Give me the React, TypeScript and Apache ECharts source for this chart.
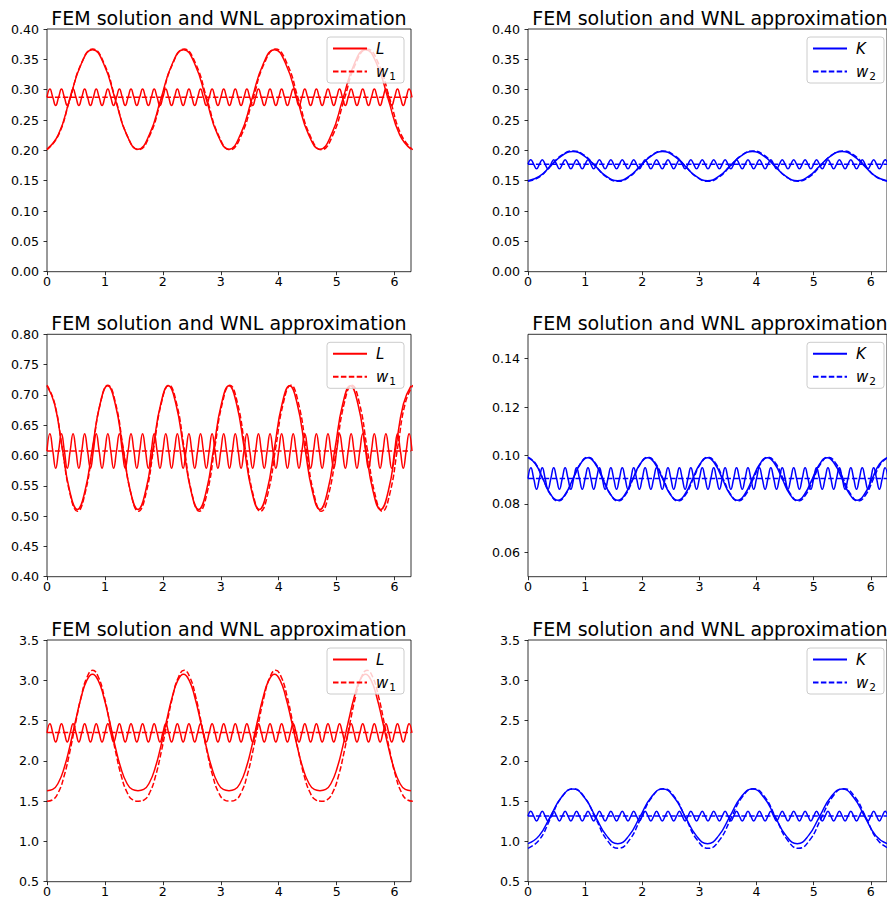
import React, { useEffect, useRef } from "react";
import * as echarts from "echarts";

// ---------- data ----------
const TWO_PI = 6.283185307;
const X_TICKS = [0, 1, 2, 3, 4, 5, 6];
const Y_TICKS_TOP = [0.0, 0.05, 0.1, 0.15, 0.2, 0.25, 0.3, 0.35, 0.4];
const Y_TICKS_MID_L = [0.4, 0.45, 0.5, 0.55, 0.6, 0.65, 0.7, 0.75, 0.8];
const Y_TICKS_MID_R = [0.06, 0.08, 0.1, 0.12, 0.14];
const Y_TICKS_BOT = [0.5, 1.0, 1.5, 2.0, 2.5, 3.0, 3.5];

const TITLE = "FEM solution and WNL approximation";
const LEFT_NAMES = ["L", "w1"];
const RIGHT_NAMES = ["K", "w2"];

// sampling steps along x (solid FEM curve / dashed WNL curve / fast mode)
const SLOW_STEP = [0.19635, 0.19635, 0.1309, 0.1309, 0.09817, 0.19635];
const DASH_STEP = [0.19733, 0.19674, 0.13155, 0.13142, 0.09866, 0.19733];
const FAST_STEP = 0.05;

// panel 1 (top left)
const L_1 = [
  0.202, 0.226, 0.284, 0.342, 0.366, 0.342, 0.284, 0.226,
  0.202, 0.226, 0.284, 0.342, 0.366, 0.342, 0.284, 0.226,
  0.202, 0.226, 0.284, 0.342, 0.366, 0.342, 0.284, 0.226,
  0.202, 0.226, 0.284, 0.342, 0.366, 0.342, 0.284, 0.226,
  0.202,
];
const W1_1 = [
  0.201, 0.225, 0.284, 0.343, 0.367, 0.343, 0.284, 0.225,
  0.201, 0.225, 0.284, 0.343, 0.367, 0.343, 0.284, 0.225,
  0.201, 0.225, 0.284, 0.343, 0.367, 0.343, 0.284, 0.225,
  0.201, 0.225, 0.284, 0.343, 0.367, 0.343, 0.284, 0.225,
  0.201,
];
// panel 2 (top right)
const K_2 = [
  0.150, 0.157, 0.174, 0.191, 0.198, 0.191, 0.174, 0.157,
  0.150, 0.157, 0.174, 0.191, 0.198, 0.191, 0.174, 0.157,
  0.150, 0.157, 0.174, 0.191, 0.198, 0.191, 0.174, 0.157,
  0.150, 0.157, 0.174, 0.191, 0.198, 0.191, 0.174, 0.157,
  0.150,
];
const W2_2 = [
  0.149, 0.156, 0.174, 0.192, 0.199, 0.192, 0.174, 0.156,
  0.149, 0.156, 0.174, 0.192, 0.199, 0.192, 0.174, 0.156,
  0.149, 0.156, 0.174, 0.192, 0.199, 0.192, 0.174, 0.156,
  0.149, 0.156, 0.174, 0.192, 0.199, 0.192, 0.174, 0.156,
  0.149,
];
// panel 3 (middle left)
const L_3 = [
  0.715, 0.685, 0.613, 0.541, 0.511, 0.541, 0.613, 0.685,
  0.715, 0.685, 0.613, 0.541, 0.511, 0.541, 0.613, 0.685,
  0.715, 0.685, 0.613, 0.541, 0.511, 0.541, 0.613, 0.685,
  0.715, 0.685, 0.613, 0.541, 0.511, 0.541, 0.613, 0.685,
  0.715, 0.685, 0.613, 0.541, 0.511, 0.541, 0.613, 0.685,
  0.715, 0.685, 0.613, 0.541, 0.511, 0.541, 0.613, 0.685,
  0.715,
];
const W1_3 = [
  0.716, 0.686, 0.612, 0.538, 0.508, 0.538, 0.612, 0.686,
  0.716, 0.686, 0.612, 0.538, 0.508, 0.538, 0.612, 0.686,
  0.716, 0.686, 0.612, 0.538, 0.508, 0.538, 0.612, 0.686,
  0.716, 0.686, 0.612, 0.538, 0.508, 0.538, 0.612, 0.686,
  0.716, 0.686, 0.612, 0.538, 0.508, 0.538, 0.612, 0.686,
  0.716, 0.686, 0.612, 0.538, 0.508, 0.538, 0.612, 0.686,
  0.716,
];
// panel 4 (middle right)
const K_4 = [
  0.0991, 0.0965, 0.0903, 0.0841, 0.0815, 0.0841, 0.0903, 0.0965,
  0.0991, 0.0965, 0.0903, 0.0841, 0.0815, 0.0841, 0.0903, 0.0965,
  0.0991, 0.0965, 0.0903, 0.0841, 0.0815, 0.0841, 0.0903, 0.0965,
  0.0991, 0.0965, 0.0903, 0.0841, 0.0815, 0.0841, 0.0903, 0.0965,
  0.0991, 0.0965, 0.0903, 0.0841, 0.0815, 0.0841, 0.0903, 0.0965,
  0.0991, 0.0965, 0.0903, 0.0841, 0.0815, 0.0841, 0.0903, 0.0965,
  0.0991,
];
const W2_4 = [
  0.0993, 0.0967, 0.0903, 0.0839, 0.0812, 0.0839, 0.0903, 0.0967,
  0.0993, 0.0967, 0.0903, 0.0839, 0.0812, 0.0839, 0.0903, 0.0967,
  0.0993, 0.0967, 0.0903, 0.0839, 0.0812, 0.0839, 0.0903, 0.0967,
  0.0993, 0.0967, 0.0903, 0.0839, 0.0812, 0.0839, 0.0903, 0.0967,
  0.0993, 0.0967, 0.0903, 0.0839, 0.0812, 0.0839, 0.0903, 0.0967,
  0.0993, 0.0967, 0.0903, 0.0839, 0.0812, 0.0839, 0.0903, 0.0967,
  0.0993,
];
// panel 5 (bottom left)
const L_5 = [
  1.630, 1.645, 1.728, 1.909, 2.177, 2.491, 2.787, 2.998, 3.074, 2.998, 2.787, 2.491, 2.177, 1.909, 1.728, 1.645,
  1.630, 1.645, 1.728, 1.909, 2.177, 2.491, 2.787, 2.998, 3.074, 2.998, 2.787, 2.491, 2.177, 1.909, 1.728, 1.645,
  1.630, 1.645, 1.728, 1.909, 2.177, 2.491, 2.787, 2.998, 3.074, 2.998, 2.787, 2.491, 2.177, 1.909, 1.728, 1.645,
  1.630, 1.645, 1.728, 1.909, 2.177, 2.491, 2.787, 2.998, 3.074, 2.998, 2.787, 2.491, 2.177, 1.909, 1.728, 1.645,
  1.630,
];
const W1_5 = [
  1.500, 1.517, 1.610, 1.813, 2.115, 2.469, 2.801, 3.038, 3.124, 3.038, 2.801, 2.469, 2.115, 1.813, 1.610, 1.517,
  1.500, 1.517, 1.610, 1.813, 2.115, 2.469, 2.801, 3.038, 3.124, 3.038, 2.801, 2.469, 2.115, 1.813, 1.610, 1.517,
  1.500, 1.517, 1.610, 1.813, 2.115, 2.469, 2.801, 3.038, 3.124, 3.038, 2.801, 2.469, 2.115, 1.813, 1.610, 1.517,
  1.500, 1.517, 1.610, 1.813, 2.115, 2.469, 2.801, 3.038, 3.124, 3.038, 2.801, 2.469, 2.115, 1.813, 1.610, 1.517,
  1.500,
];
// panel 6 (bottom right)
const K_6 = [
  0.972, 1.072, 1.312, 1.552, 1.651, 1.552, 1.312, 1.072,
  0.972, 1.072, 1.312, 1.552, 1.651, 1.552, 1.312, 1.072,
  0.972, 1.072, 1.312, 1.552, 1.651, 1.552, 1.312, 1.072,
  0.972, 1.072, 1.312, 1.552, 1.651, 1.552, 1.312, 1.072,
  0.972,
];
const W2_6 = [
  0.914, 1.019, 1.285, 1.551, 1.655, 1.551, 1.285, 1.019,
  0.914, 1.019, 1.285, 1.551, 1.655, 1.551, 1.285, 1.019,
  0.914, 1.019, 1.285, 1.551, 1.655, 1.551, 1.285, 1.019,
  0.914, 1.019, 1.285, 1.551, 1.655, 1.551, 1.285, 1.019,
  0.914,
];

// fast oscillating mode, sampled every FAST_STEP
const FAST_1 = [
  0.2875, 0.301, 0.2875, 0.274, 0.2875, 0.301, 0.2875, 0.274,
  0.2875, 0.301, 0.2875, 0.274, 0.2875, 0.301, 0.2875, 0.274,
  0.2875, 0.301, 0.2875, 0.274, 0.2875, 0.301, 0.2875, 0.274,
  0.2875, 0.301, 0.2875, 0.274, 0.2875, 0.301, 0.2875, 0.274,
  0.2875, 0.301, 0.2875, 0.274, 0.2875, 0.301, 0.2875, 0.274,
  0.2875, 0.301, 0.2875, 0.274, 0.2875, 0.301, 0.2875, 0.274,
  0.2875, 0.301, 0.2875, 0.274, 0.2875, 0.301, 0.2875, 0.274,
  0.2875, 0.301, 0.2875, 0.274, 0.2875, 0.301, 0.2875, 0.274,
  0.2875, 0.301, 0.2875, 0.274, 0.2875, 0.301, 0.2875, 0.274,
  0.2875, 0.301, 0.2875, 0.274, 0.2875, 0.301, 0.2875, 0.274,
  0.2875, 0.301, 0.2875, 0.274, 0.2875, 0.301, 0.2875, 0.274,
  0.2875, 0.301, 0.2875, 0.274, 0.2875, 0.301, 0.2875, 0.274,
  0.2875, 0.301, 0.2875, 0.274, 0.2875, 0.301, 0.2875, 0.274,
  0.2875, 0.301, 0.2875, 0.274, 0.2875, 0.301, 0.2875, 0.274,
  0.2875, 0.301, 0.2875, 0.274, 0.2875, 0.301, 0.2875, 0.274,
  0.2875, 0.301, 0.2875, 0.274,
  0.2875, 0.301, 0.2875,
];
const FAST_2 = [
  0.177, 0.1845, 0.177, 0.1695, 0.177, 0.1845, 0.177, 0.1695,
  0.177, 0.1845, 0.177, 0.1695, 0.177, 0.1845, 0.177, 0.1695,
  0.177, 0.1845, 0.177, 0.1695, 0.177, 0.1845, 0.177, 0.1695,
  0.177, 0.1845, 0.177, 0.1695, 0.177, 0.1845, 0.177, 0.1695,
  0.177, 0.1845, 0.177, 0.1695, 0.177, 0.1845, 0.177, 0.1695,
  0.177, 0.1845, 0.177, 0.1695, 0.177, 0.1845, 0.177, 0.1695,
  0.177, 0.1845, 0.177, 0.1695, 0.177, 0.1845, 0.177, 0.1695,
  0.177, 0.1845, 0.177, 0.1695, 0.177, 0.1845, 0.177, 0.1695,
  0.177, 0.1845, 0.177, 0.1695, 0.177, 0.1845, 0.177, 0.1695,
  0.177, 0.1845, 0.177, 0.1695, 0.177, 0.1845, 0.177, 0.1695,
  0.177, 0.1845, 0.177, 0.1695, 0.177, 0.1845, 0.177, 0.1695,
  0.177, 0.1845, 0.177, 0.1695, 0.177, 0.1845, 0.177, 0.1695,
  0.177, 0.1845, 0.177, 0.1695, 0.177, 0.1845, 0.177, 0.1695,
  0.177, 0.1845, 0.177, 0.1695, 0.177, 0.1845, 0.177, 0.1695,
  0.177, 0.1845, 0.177, 0.1695, 0.177, 0.1845, 0.177, 0.1695,
  0.177, 0.1845, 0.177, 0.1695,
  0.177, 0.1845, 0.177,
];
const FAST_3 = [
  0.6075, 0.636, 0.6075, 0.579, 0.6075, 0.636, 0.6075, 0.579,
  0.6075, 0.636, 0.6075, 0.579, 0.6075, 0.636, 0.6075, 0.579,
  0.6075, 0.636, 0.6075, 0.579, 0.6075, 0.636, 0.6075, 0.579,
  0.6075, 0.636, 0.6075, 0.579, 0.6075, 0.636, 0.6075, 0.579,
  0.6075, 0.636, 0.6075, 0.579, 0.6075, 0.636, 0.6075, 0.579,
  0.6075, 0.636, 0.6075, 0.579, 0.6075, 0.636, 0.6075, 0.579,
  0.6075, 0.636, 0.6075, 0.579, 0.6075, 0.636, 0.6075, 0.579,
  0.6075, 0.636, 0.6075, 0.579, 0.6075, 0.636, 0.6075, 0.579,
  0.6075, 0.636, 0.6075, 0.579, 0.6075, 0.636, 0.6075, 0.579,
  0.6075, 0.636, 0.6075, 0.579, 0.6075, 0.636, 0.6075, 0.579,
  0.6075, 0.636, 0.6075, 0.579, 0.6075, 0.636, 0.6075, 0.579,
  0.6075, 0.636, 0.6075, 0.579, 0.6075, 0.636, 0.6075, 0.579,
  0.6075, 0.636, 0.6075, 0.579, 0.6075, 0.636, 0.6075, 0.579,
  0.6075, 0.636, 0.6075, 0.579, 0.6075, 0.636, 0.6075, 0.579,
  0.6075, 0.636, 0.6075, 0.579, 0.6075, 0.636, 0.6075, 0.579,
  0.6075, 0.636, 0.6075, 0.579,
  0.6075, 0.636, 0.6075,
];
const FAST_4 = [
  0.0905, 0.0949, 0.0905, 0.0861, 0.0905, 0.0949, 0.0905, 0.0861,
  0.0905, 0.0949, 0.0905, 0.0861, 0.0905, 0.0949, 0.0905, 0.0861,
  0.0905, 0.0949, 0.0905, 0.0861, 0.0905, 0.0949, 0.0905, 0.0861,
  0.0905, 0.0949, 0.0905, 0.0861, 0.0905, 0.0949, 0.0905, 0.0861,
  0.0905, 0.0949, 0.0905, 0.0861, 0.0905, 0.0949, 0.0905, 0.0861,
  0.0905, 0.0949, 0.0905, 0.0861, 0.0905, 0.0949, 0.0905, 0.0861,
  0.0905, 0.0949, 0.0905, 0.0861, 0.0905, 0.0949, 0.0905, 0.0861,
  0.0905, 0.0949, 0.0905, 0.0861, 0.0905, 0.0949, 0.0905, 0.0861,
  0.0905, 0.0949, 0.0905, 0.0861, 0.0905, 0.0949, 0.0905, 0.0861,
  0.0905, 0.0949, 0.0905, 0.0861, 0.0905, 0.0949, 0.0905, 0.0861,
  0.0905, 0.0949, 0.0905, 0.0861, 0.0905, 0.0949, 0.0905, 0.0861,
  0.0905, 0.0949, 0.0905, 0.0861, 0.0905, 0.0949, 0.0905, 0.0861,
  0.0905, 0.0949, 0.0905, 0.0861, 0.0905, 0.0949, 0.0905, 0.0861,
  0.0905, 0.0949, 0.0905, 0.0861, 0.0905, 0.0949, 0.0905, 0.0861,
  0.0905, 0.0949, 0.0905, 0.0861, 0.0905, 0.0949, 0.0905, 0.0861,
  0.0905, 0.0949, 0.0905, 0.0861,
  0.0905, 0.0949, 0.0905,
];
const FAST_5 = [
  2.348, 2.461, 2.348, 2.235, 2.348, 2.461, 2.348, 2.235,
  2.348, 2.461, 2.348, 2.235, 2.348, 2.461, 2.348, 2.235,
  2.348, 2.461, 2.348, 2.235, 2.348, 2.461, 2.348, 2.235,
  2.348, 2.461, 2.348, 2.235, 2.348, 2.461, 2.348, 2.235,
  2.348, 2.461, 2.348, 2.235, 2.348, 2.461, 2.348, 2.235,
  2.348, 2.461, 2.348, 2.235, 2.348, 2.461, 2.348, 2.235,
  2.348, 2.461, 2.348, 2.235, 2.348, 2.461, 2.348, 2.235,
  2.348, 2.461, 2.348, 2.235, 2.348, 2.461, 2.348, 2.235,
  2.348, 2.461, 2.348, 2.235, 2.348, 2.461, 2.348, 2.235,
  2.348, 2.461, 2.348, 2.235, 2.348, 2.461, 2.348, 2.235,
  2.348, 2.461, 2.348, 2.235, 2.348, 2.461, 2.348, 2.235,
  2.348, 2.461, 2.348, 2.235, 2.348, 2.461, 2.348, 2.235,
  2.348, 2.461, 2.348, 2.235, 2.348, 2.461, 2.348, 2.235,
  2.348, 2.461, 2.348, 2.235, 2.348, 2.461, 2.348, 2.235,
  2.348, 2.461, 2.348, 2.235, 2.348, 2.461, 2.348, 2.235,
  2.348, 2.461, 2.348, 2.235,
  2.348, 2.461, 2.348,
];
const FAST_6 = [
  1.314, 1.374, 1.314, 1.254, 1.314, 1.374, 1.314, 1.254,
  1.314, 1.374, 1.314, 1.254, 1.314, 1.374, 1.314, 1.254,
  1.314, 1.374, 1.314, 1.254, 1.314, 1.374, 1.314, 1.254,
  1.314, 1.374, 1.314, 1.254, 1.314, 1.374, 1.314, 1.254,
  1.314, 1.374, 1.314, 1.254, 1.314, 1.374, 1.314, 1.254,
  1.314, 1.374, 1.314, 1.254, 1.314, 1.374, 1.314, 1.254,
  1.314, 1.374, 1.314, 1.254, 1.314, 1.374, 1.314, 1.254,
  1.314, 1.374, 1.314, 1.254, 1.314, 1.374, 1.314, 1.254,
  1.314, 1.374, 1.314, 1.254, 1.314, 1.374, 1.314, 1.254,
  1.314, 1.374, 1.314, 1.254, 1.314, 1.374, 1.314, 1.254,
  1.314, 1.374, 1.314, 1.254, 1.314, 1.374, 1.314, 1.254,
  1.314, 1.374, 1.314, 1.254, 1.314, 1.374, 1.314, 1.254,
  1.314, 1.374, 1.314, 1.254, 1.314, 1.374, 1.314, 1.254,
  1.314, 1.374, 1.314, 1.254, 1.314, 1.374, 1.314, 1.254,
  1.314, 1.374, 1.314, 1.254, 1.314, 1.374, 1.314, 1.254,
  1.314, 1.374, 1.314, 1.254,
  1.314, 1.374, 1.314,
];
// WNL approximation of the fast mode (constant level)
const FAST_MEAN = [0.2875, 0.177, 0.6075, 0.0905, 2.352, 1.315];

const SOLID = [L_1, K_2, L_3, K_4, L_5, K_6];
const DASHED = [W1_1, W2_2, W1_3, W2_4, W1_5, W2_6];
const FAST = [FAST_1, FAST_2, FAST_3, FAST_4, FAST_5, FAST_6];

// ---------- layout ----------
const COL_LEFT = [47, 528];
const ROW_TOP = [29, 334.3, 640];
const PLOT_W = 364;
const PLOT_H = [242.7, 242.4, 241.7];
const LEGEND_X = [327, 807];
const LEGEND_W = 77;
const LEGEND_H = 46;
const Y_RANGE = [
  [0, 0.4], [0, 0.4],
  [0.4, 0.8], [0.05, 0.15],
  [0.5, 3.5], [0.5, 3.5],
];
const Y_TICKS = [Y_TICKS_TOP, Y_TICKS_TOP, Y_TICKS_MID_L, Y_TICKS_MID_R, Y_TICKS_BOT, Y_TICKS_BOT];
const Y_DEC = [2, 2, 2, 2, 1, 1];
const COLORS = ["#ff0000", "#0000ff"];
const FONT = "DejaVu Sans";
const DASH = [5.5, 2.4];

function toXY(vals: number[], step: number): number[][] {
  return vals.map((v, i) => [i * step, v]);
}

function buildOption() {
  const grid: any[] = [];
  const xAxis: any[] = [];
  const yAxis: any[] = [];
  const series: any[] = [];
  const title: any[] = [];
  const legend: any[] = [];
  const graphic: any[] = [];

  for (let i = 0; i < 6; i++) {
    const row = Math.floor(i / 2);
    const col = i % 2;
    const left = COL_LEFT[col];
    const top = ROW_TOP[row];
    const h = PLOT_H[row];
    const color = COLORS[col];
    const names = col === 0 ? LEFT_NAMES : RIGHT_NAMES;

    grid.push({
      left, top, width: PLOT_W, height: h,
      show: true, borderColor: "#000", borderWidth: 0.8,
      backgroundColor: "transparent", containLabel: false,
    });
    xAxis.push({
      type: "value", gridIndex: i, min: 0, max: TWO_PI,
      axisLine: { show: false },
      axisTick: { show: true, length: 3.5, inside: false, customValues: X_TICKS, lineStyle: { color: "#000", width: 0.8 } },
      axisLabel: { customValues: X_TICKS, fontSize: 12.6, color: "#000", fontFamily: FONT, margin: 3,
        formatter: (v: number) => String(Math.round(v)) },
      splitLine: { show: false },
    });
    yAxis.push({
      type: "value", gridIndex: i, min: Y_RANGE[i][0], max: Y_RANGE[i][1],
      axisLine: { show: false },
      axisTick: { show: true, length: 3.5, inside: false, customValues: Y_TICKS[i], lineStyle: { color: "#000", width: 0.8 } },
      axisLabel: { customValues: Y_TICKS[i], fontSize: 12.6, color: "#000", fontFamily: FONT, margin: 8,
        formatter: (v: number) => v.toFixed(Y_DEC[i]) },
      splitLine: { show: false },
    });
    title.push({
      text: TITLE, left: left + PLOT_W / 2, top: top - 21, textAlign: "center",
      textStyle: { fontSize: 19, fontWeight: "normal", color: "#000", fontFamily: FONT },
      padding: 0,
    });
    // legend frame (drawn above the curves, below the legend entries)
    graphic.push({
      type: "rect", zlevel: 1, z: 1, silent: true,
      shape: { x: LEGEND_X[col], y: top + 8, width: LEGEND_W, height: LEGEND_H, r: 3 },
      style: { fill: "rgba(255,255,255,0.8)", stroke: "#cccccc", lineWidth: 1 },
    });
    legend.push({
      zlevel: 1, z: 5,
      data: names, orient: "vertical",
      left: LEGEND_X[col], top: top + 7,
      itemWidth: 34, itemHeight: 14, itemGap: 8,
      padding: [5, 5, 5, 5],
      borderWidth: 0, backgroundColor: "transparent",
      selectedMode: false,
      itemStyle: { opacity: 0, borderWidth: 0 },
      formatter: (name: string) => name.length === 1 ? `{i|${name}}` : `{i|${name[0]}}{s|${name.slice(1)}}`,
      textStyle: {
        fontFamily: FONT, fontSize: 14.5, color: "#000",
        rich: {
          i: { fontStyle: "italic", fontSize: 15, fontFamily: FONT, color: "#000", padding: [0, 0, 0, 4] },
          s: { fontSize: 10.5, fontFamily: FONT, color: "#000", padding: [8, 0, 0, 1] },
        },
      },
    });

    const common = { xAxisIndex: i, yAxisIndex: i, type: "line", symbol: "none", showSymbol: false, clip: true, silent: true };
    series.push({
      ...common, name: names[0], smooth: true,
      data: toXY(SOLID[i], SLOW_STEP[i]),
      lineStyle: { color, width: 1.5, type: "solid" }, itemStyle: { color },
    });
    series.push({
      ...common, name: names[1], smooth: true,
      data: toXY(DASHED[i], DASH_STEP[i]),
      lineStyle: { color, width: 1.5, type: DASH }, itemStyle: { color },
    });
    series.push({
      ...common, name: `fast${i}`, smooth: true,
      data: toXY(FAST[i], FAST_STEP),
      lineStyle: { color, width: 1.5, type: "solid" }, itemStyle: { color },
    });
    series.push({
      ...common, name: `mean${i}`,
      data: [[0, FAST_MEAN[i]], [TWO_PI, FAST_MEAN[i]]],
      lineStyle: { color, width: 1.5, type: DASH }, itemStyle: { color },
    });
  }

  return {
    animation: false,
    backgroundColor: "#ffffff",
    textStyle: { fontFamily: FONT },
    title, legend, grid, xAxis, yAxis, series, graphic,
  };
}

export default function App() {
  const ref = useRef<HTMLDivElement>(null);
  useEffect(() => {
    document.body.style.margin = "0";
    if (!ref.current) return;
    const chart = echarts.init(ref.current, undefined, { renderer: "svg" });
    chart.setOption(buildOption() as any);
    return () => chart.dispose();
  }, []);
  return <div ref={ref} style={{ width: 887, height: 898, overflow: "hidden" }} />;
}
